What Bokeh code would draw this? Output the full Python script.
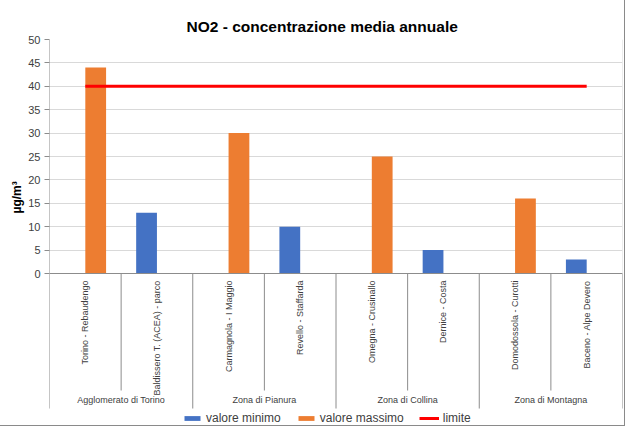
import math
from bokeh.plotting import figure
from bokeh.models import Range1d, FixedTicker, Legend, LegendItem, Title
from bokeh.core.properties import value
from bokeh.embed import file_html
from bokeh.resources import INLINE

# ---------------- data ----------------
stations = ["Torino - Rebaudengo", "Baldissero T. (ACEA) - parco",
            "Carmagnola - I Maggio", "Revello - Staffarda",
            "Omegna - Crusinallo", "Dernice - Costa",
            "Domodossola - Curotti", "Baceno - Alpe Devero"]
zones = ["Agglomerato di Torino", "Zona di Pianura", "Zona di Collina", "Zona di Montagna"]
NAN = float("nan")
valore_minimo = [NAN, 13, NAN, 10, NAN, 5, NAN, 3]
valore_massimo = [44, NAN, 30, NAN, 25, NAN, 16, NAN]
limite = [40, 40, 40, 40, 40, 40, 40, 40]
y_ticks = [0, 5, 10, 15, 20, 25, 30, 35, 40, 45, 50]

# ---------------- layout ----------------
W, H = 624, 425
BL, BR, BT, BB = 49, 2, 39, 0
PX_PER_UNIT = 4.68
Y_TOP = 50
frame_h = H - BT - BB
Y_BOT = Y_TOP - frame_h / PX_PER_UNIT

n = len(stations)
per_zone = n // len(zones)
centers = [i + 0.5 for i in range(n)]
zone_centers = [z * per_zone + per_zone / 2 for z in range(len(zones))]
BAR_W = 0.29
FONT = "Liberation Sans"
GRAY = "#8c8c8c"
TXT = "#404040"

p = figure(width=W, height=H, x_range=Range1d(0, n), y_range=Range1d(Y_BOT, Y_TOP),
           output_backend="svg", toolbar_location=None, x_axis_location=None,
           min_border_left=BL, min_border_right=BR, min_border_top=BT, min_border_bottom=BB,
           outline_line_color=None)

p.title.text = "NO2  - concentrazione media annuale"
p.title.align = "left"
p.title.offset = 137
p.title.standoff = 9
p.title.text_font = FONT
p.title.text_font_size = "15.5px"
p.title.text_font_style = "bold"
p.title.text_color = "#000000"

# y axis
ax = p.yaxis[0]
ax.ticker = FixedTicker(ticks=y_ticks)
ax.axis_line_color = None
ax.major_tick_in = 0
ax.major_tick_out = 5
ax.major_tick_line_color = GRAY
ax.minor_tick_line_color = None
ax.major_label_standoff = 4
ax.major_label_text_font = FONT
ax.major_label_text_font_size = "11px"
ax.major_label_text_color = TXT

p.xgrid.visible = False
p.ygrid.grid_line_color = "#d9d9d9"
p.ygrid.ticker = FixedTicker(ticks=y_ticks)

# plot area right border
p.segment(x0=[n], y0=[0], x1=[n], y1=[Y_TOP], line_color="#d9d9d9", line_width=1)

# bars
r_min = p.vbar(x=[c - BAR_W / 2 for c in centers], top=valore_minimo, width=BAR_W,
               fill_color="#4472C4", line_color=None)
r_max = p.vbar(x=[c + BAR_W / 2 for c in centers], top=valore_massimo, width=BAR_W,
               fill_color="#ED7D31", line_color=None)
r_lim = p.line(x=centers, y=limite, line_color="#FF0000", line_width=3)

# category axis structure
inner_bot = -25.0
group_bot = -28.85
p.segment(x0=[0], y0=[Y_TOP], x1=[0], y1=[0], line_color=GRAY)
p.segment(x0=[0], y0=[0], x1=[n], y1=[0], line_color=GRAY)
inner_x = [z * per_zone + k for z in range(len(zones)) for k in range(1, per_zone)]
group_x = [z * per_zone for z in range(len(zones) + 1)]
p.segment(x0=inner_x, y0=[0] * len(inner_x), x1=inner_x, y1=[inner_bot] * len(inner_x), line_color=GRAY)
p.segment(x0=group_x, y0=[0] * len(group_x), x1=group_x, y1=[group_bot] * len(group_x), line_color=GRAY)

p.text(x=centers, y=[-1.5] * n, text=stations, angle=math.pi / 2,
       text_align="right", text_baseline="middle",
       text_font=value(FONT), text_font_size="9px", text_color=TXT)
p.text(x=zone_centers, y=[-27.1] * len(zones), text=zones,
       text_align="center", text_baseline="middle",
       text_font=value(FONT), text_font_size="9px", text_color=TXT)

# y axis title
ylab = Title(text="µg/m³", align="left", offset=212, standoff=4,
             text_font=FONT, text_font_size="12px", text_font_style="bold", text_color="#000000")
p.add_layout(ylab, "left")

legend = Legend(items=[LegendItem(label="valore minimo", renderers=[r_min]),
                       LegendItem(label="valore massimo", renderers=[r_max]),
                       LegendItem(label="limite", renderers=[r_lim])],
                orientation="horizontal", location=(133, 0),
                glyph_width=20, glyph_height=6, label_height=12, label_standoff=4,
                spacing=15, padding=0, margin=0, border_line_color=None,
                background_fill_alpha=0, label_text_font=FONT,
                label_text_font_size="12px", label_text_color=TXT)
p.add_layout(legend)

p.styles = {"outline": "1px solid #8a8a8a"}

open("out.html", "w").write(file_html(p, INLINE))
